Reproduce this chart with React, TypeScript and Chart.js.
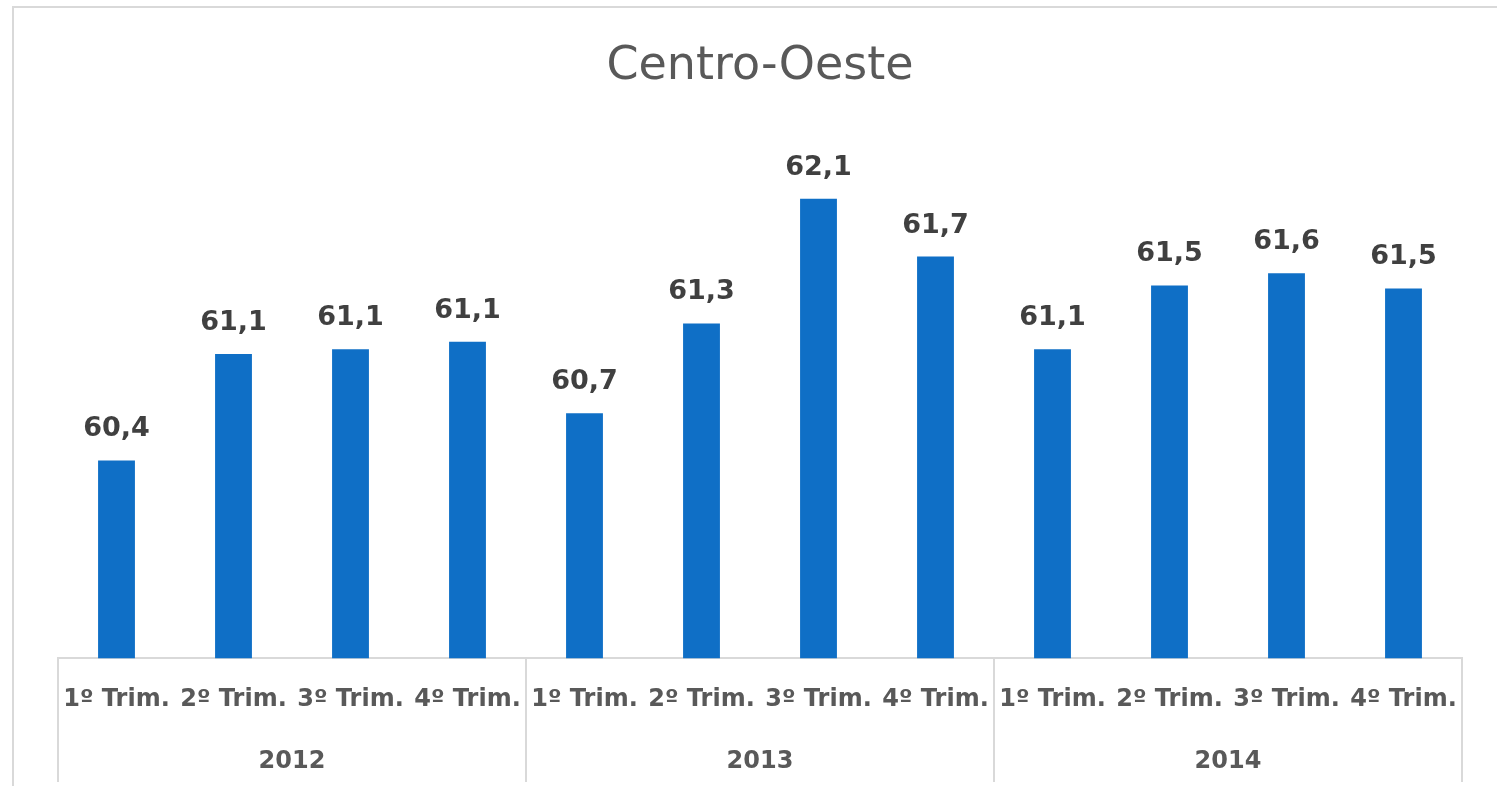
import React, { useEffect, useRef } from 'react';
import { Chart, registerables } from 'chart.js';

Chart.register(...registerables);

const chartTitle = 'Centro-Oeste';
const years = ['2012', '2013', '2014'];
const quarterNames = ['1º Trim.', '2º Trim.', '3º Trim.', '4º Trim.'];
const values = [60.36, 61.06, 61.09, 61.14, 60.67, 61.26, 62.08, 61.7, 61.09, 61.51, 61.59, 61.49];
const yMin = 59.06;
const yMax = 62.4;

const categories = years.flatMap(() => quarterNames);

const FONT = '"DejaVu Sans", "Open Sans", sans-serif';
const W = 1497;
const H = 786;

const framePlugin = {
  id: 'frame',
  beforeDraw(chart: any) {
    const { ctx } = chart;
    ctx.save();
    ctx.fillStyle = '#ffffff';
    ctx.fillRect(0, 0, chart.width, chart.height);
    ctx.strokeStyle = '#d9d9d9';
    ctx.lineWidth = 2;
    ctx.beginPath();
    ctx.moveTo(13, chart.height);
    ctx.lineTo(13, 7);
    ctx.lineTo(chart.width, 7);
    ctx.stroke();
    ctx.restore();
  },
};

const groupLinesPlugin = {
  id: 'groupLines',
  afterDraw(chart: any) {
    const { ctx, chartArea } = chart;
    const x = chart.scales.x;
    const n = categories.length;
    const per = quarterNames.length;
    const half = (x.getPixelForValue(1) - x.getPixelForValue(0)) / 2;
    ctx.save();
    ctx.strokeStyle = '#d9d9d9';
    ctx.lineWidth = 2;
    for (let g = 0; g <= years.length; g++) {
      const px = g * per >= n ? x.getPixelForValue(n - 1) + half : x.getPixelForValue(g * per) - half;
      ctx.beginPath();
      ctx.moveTo(px, chartArea.bottom);
      ctx.lineTo(px, chart.height - 4);
      ctx.stroke();
    }
    ctx.restore();
  },
};

const dataLabelPlugin = {
  id: 'dataLabels',
  afterDatasetsDraw(chart: any) {
    const { ctx } = chart;
    const meta = chart.getDatasetMeta(0);
    ctx.save();
    ctx.font = `bold 27px ${FONT}`;
    ctx.fillStyle = '#404040';
    ctx.textAlign = 'center';
    ctx.textBaseline = 'alphabetic';
    meta.data.forEach((bar: any, i: number) => {
      const txt = values[i].toFixed(1).replace('.', ',');
      ctx.fillText(txt, bar.x, bar.y - 24);
    });
    ctx.restore();
  },
};

export default function App() {
  const ref = useRef<HTMLCanvasElement | null>(null);

  useEffect(() => {
    if (!ref.current) return;
    const chart = new Chart(ref.current, {
      type: 'bar',
      data: {
        labels: categories,
        datasets: [
          {
            data: values,
            backgroundColor: '#0f6fc6',
            borderWidth: 0,
            barPercentage: 0.63,
            categoryPercentage: 0.5,
          },
        ],
      },
      options: {
        responsive: false,
        animation: false,
        events: [],
        layout: { padding: { left: 58, right: 35, top: 0, bottom: 3 } },
        plugins: {
          legend: { display: false },
          tooltip: { enabled: false },
          title: {
            display: true,
            text: chartTitle,
            color: '#595959',
            font: { family: FONT, size: 46, weight: 'normal', lineHeight: 1.2 },
            padding: { top: 39.4, bottom: 55.4 },
          },
        },
        scales: {
          y: { display: false, min: yMin, max: yMax },
          x: {
            type: 'category',
            position: 'bottom',
            grid: { display: false, drawTicks: false, tickLength: 0 },
            border: { display: true, color: '#d9d9d9', width: 2 },
            ticks: {
              color: '#595959',
              font: { family: FONT, size: 24, weight: 'bold', lineHeight: 1.2 },
              padding: 27,
              maxRotation: 0,
              minRotation: 0,
              autoSkip: false,
            },
          },
          x2: {
            type: 'category',
            position: 'bottom',
            labels: years,
            offset: true,
            grid: { display: false, drawTicks: false, tickLength: 0 },
            border: { display: false },
            ticks: {
              color: '#595959',
              font: { family: FONT, size: 24, weight: 'bold', lineHeight: 1.2 },
              padding: 6.6,
              maxRotation: 0,
              minRotation: 0,
              autoSkip: false,
            },
          },
        },
      },
      plugins: [framePlugin, groupLinesPlugin, dataLabelPlugin],
    });
    return () => chart.destroy();
  }, []);

  return (
    <div style={{ position: 'absolute', left: 0, top: 0, width: W, height: H, background: '#fff' }}>
      <canvas ref={ref} width={W} height={H} style={{ display: 'block', width: W, height: H }} />
    </div>
  );
}
